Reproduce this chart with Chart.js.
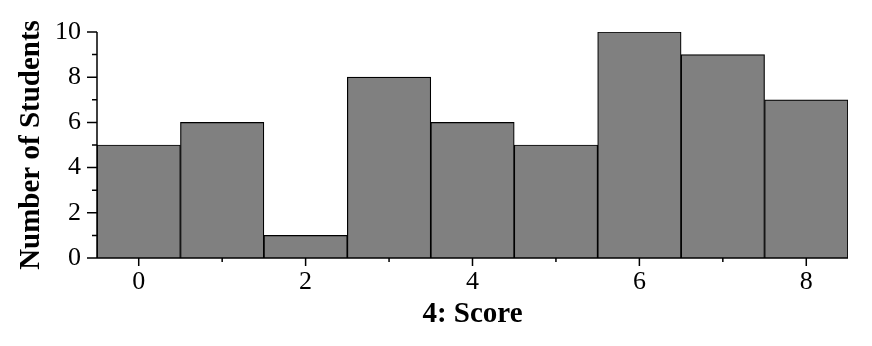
<!DOCTYPE html>
<html>
<head>
<meta charset="utf-8">
<script src="https://cdn.jsdelivr.net/npm/chart.js@4"></script>
<style>
  html, body { margin: 0; padding: 0; background: #fff; }
  #wrap { width: 872px; height: 346px; }
</style>
</head>
<body>
<div id="wrap"><canvas id="hist"></canvas></div>
<script>
const scores = ['0', '1', '2', '3', '4', '5', '6', '7', '8'];
const students = [5, 6, 1, 8, 6, 5, 10, 9, 7];
const yMajor = [0, 2, 4, 6, 8, 10];
const yMinor = [1, 3, 5, 7, 9];

const serif = '"Liberation Serif", "Times New Roman", serif';

// draws axis lines and major / minor tick marks
const axisTicks = {
  id: 'axisTicks',
  afterDraw(chart) {
    const ctx = chart.ctx;
    const xs = chart.scales.x;
    const ys = chart.scales.y;
    const area = chart.chartArea;
    ctx.save();
    ctx.strokeStyle = '#000';
    ctx.lineWidth = 1.5;
    ctx.beginPath();
    ctx.moveTo(area.left, area.top);
    ctx.lineTo(area.left, area.bottom);
    ctx.moveTo(area.left - 10, area.bottom);
    ctx.lineTo(area.right, area.bottom);
    yMajor.forEach(v => {
      const y = ys.getPixelForValue(v);
      ctx.moveTo(area.left - 10, y);
      ctx.lineTo(area.left, y);
    });
    yMinor.forEach(v => {
      const y = ys.getPixelForValue(v);
      ctx.moveTo(area.left - 5, y);
      ctx.lineTo(area.left, y);
    });
    scores.forEach((s, i) => {
      const x = xs.getPixelForValue(i);
      const len = i % 2 === 0 ? 8 : 4;
      ctx.moveTo(x, area.bottom);
      ctx.lineTo(x, area.bottom + len);
    });
    ctx.stroke();
    ctx.restore();
  }
};

new Chart(document.getElementById('hist'), {
  type: 'bar',
  data: {
    labels: scores,
    datasets: [{
      data: students,
      backgroundColor: '#808080',
      borderColor: '#000',
      borderWidth: 1.2,
      barPercentage: 1,
      categoryPercentage: 1
    }]
  },
  options: {
    responsive: true,
    maintainAspectRatio: false,
    animation: false,
    layout: { padding: { left: 0, right: 24, top: 32, bottom: 0 } },
    plugins: {
      legend: { display: false },
      tooltip: { enabled: false }
    },
    scales: {
      x: {
        grid: { display: false },
        border: { display: false },
        ticks: {
          color: '#000',
          font: { family: serif, size: 26 },
          padding: 1,
          maxRotation: 0,
          autoSkip: false,
          callback: (v, i) => (i % 2 === 0 ? scores[i] : '')
        },
        title: {
          display: true,
          text: '4: Score',
          color: '#000',
          font: { family: serif, size: 29, weight: 'bold' },
          padding: { top: 0, bottom: 14 }
        },
        afterFit: s => { s.height = 88; }
      },
      y: {
        min: 0,
        max: 10,
        grid: { display: false },
        border: { display: false },
        ticks: {
          stepSize: 2,
          color: '#000',
          font: { family: serif, size: 26 },
          padding: 8
        },
        title: {
          display: true,
          text: 'Number of Students',
          color: '#000',
          font: { family: serif, size: 29, weight: 'bold' },
          padding: { top: 14, bottom: 0 }
        },
        afterFit: s => { s.width = 97; }
      }
    }
  },
  plugins: [axisTicks]
});
</script>
</body>
</html>
